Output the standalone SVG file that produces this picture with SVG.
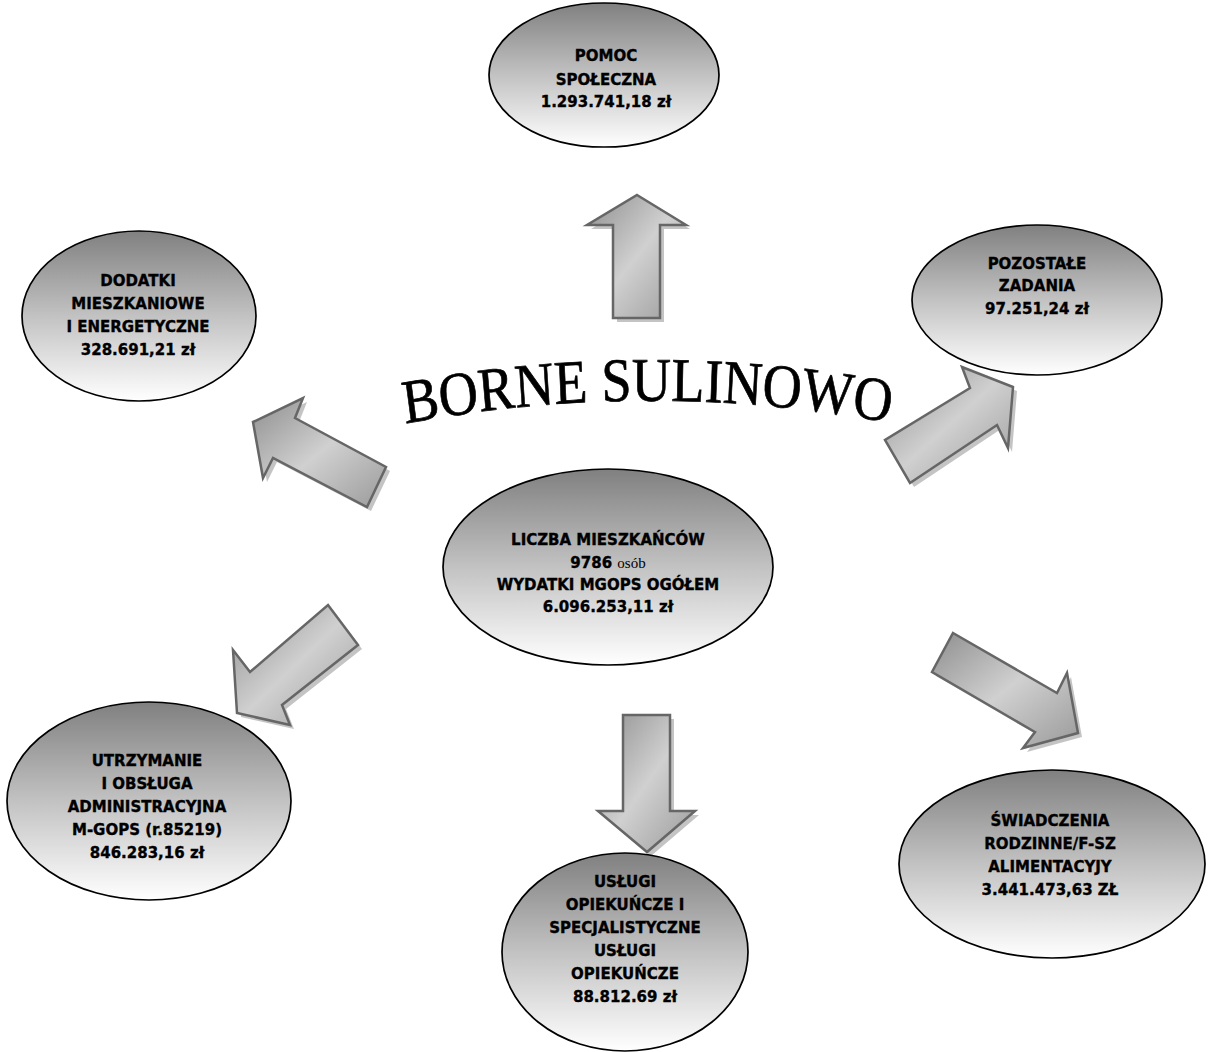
<svg xmlns="http://www.w3.org/2000/svg" width="1208" height="1052" viewBox="0 0 1208 1052">
<style>
.node ellipse{fill:url(#eg);stroke:#000;stroke-width:1.7}
.t{font-family:"DejaVu Sans","Liberation Sans",sans-serif;font-weight:bold;font-size:15px;text-anchor:middle;fill:#000;stroke:#000;stroke-width:0.35}
.s{font-family:"Liberation Serif",serif;font-weight:normal;font-size:15px;stroke:none}
.arr{fill:url(#ag);stroke:#666;stroke-width:2.5;stroke-linejoin:miter}
.sh{fill:#c4c4c4;stroke:none}
.title{font-family:"Liberation Serif","Times New Roman",serif;font-size:62px;fill:#000;stroke:#000;stroke-width:0.7}
</style>
<defs>
<linearGradient id="eg" x1="0" y1="0" x2="0" y2="1">
<stop offset="0" stop-color="#808080"/>
<stop offset="0.5" stop-color="#c2c2c2"/>
<stop offset="1" stop-color="#ffffff"/>
</linearGradient>
<linearGradient id="ag" x1="0" y1="0" x2="1" y2="1">
<stop offset="0" stop-color="#8e8e8e"/>
<stop offset="0.5" stop-color="#d0d0d0"/>
<stop offset="1" stop-color="#9a9a9a"/>
</linearGradient>
<path id="arc" d="M 362 425 A 1529 1353 0 0 1 933 424"/>
</defs>
<rect width="1208" height="1052" fill="#fff"/>

<g id="connectors">
<polygon class="sh" transform="translate(4,4)" points="637,195 686,225 660,225 660,318 613,318 613,225 587,225"/>
<polygon class="arr" points="637,195 686,225 660,225 660,318 613,318 613,225 587,225"/>
<polygon class="sh" transform="translate(4,4)" points="623,715 670,715 670,811 695,811 647,852 598,811 623,811"/>
<polygon class="arr" points="623,715 670,715 670,811 695,811 647,852 598,811 623,811"/>
<polygon class="sh" transform="translate(4,4)" points="253,422 303,398 295,418 386,467 367,507 273,458 263,478"/>
<polygon class="arr" points="253,422 303,398 295,418 386,467 367,507 273,458 263,478"/>
<polygon class="sh" transform="translate(4,4)" points="1013,387 962,367 970,388 885,440 910,483 997,425 1008,448"/>
<polygon class="arr" points="1013,387 962,367 970,388 885,440 910,483 997,425 1008,448"/>
<polygon class="sh" transform="translate(4,4)" points="328,605 358,645 282,705 290,725 237,713 233,650 250,672"/>
<polygon class="arr" points="328,605 358,645 282,705 290,725 237,713 233,650 250,672"/>
<polygon class="sh" transform="translate(4,4)" points="953,633 1057,693 1067,673 1078,733 1023,748 1035,732 932,672"/>
<polygon class="arr" points="953,633 1057,693 1067,673 1078,733 1023,748 1035,732 932,672"/>
</g>

<g id="title">
<text class="title" transform="translate(648.5,0) scale(0.875,1) translate(-648.5,0)"><textPath href="#arc" startOffset="50%" text-anchor="middle">BORNE SULINOWO</textPath></text>
</g>

<g id="node-pomoc" class="node">
<ellipse cx="604" cy="75" rx="115" ry="72"/>
<text class="t" x="606" y="61">POMOC</text>
<text class="t" x="606" y="85">SPOŁECZNA</text>
<text class="t" x="606" y="107">1.293.741,18 zł</text>
</g>

<g id="node-dodatki" class="node">
<ellipse cx="139" cy="316" rx="117" ry="85"/>
<text class="t" x="138" y="286">DODATKI</text>
<text class="t" x="138" y="309">MIESZKANIOWE</text>
<text class="t" x="138" y="332">I ENERGETYCZNE</text>
<text class="t" x="138" y="355">328.691,21 zł</text>
</g>

<g id="node-pozostale" class="node">
<ellipse cx="1037" cy="300" rx="125" ry="75"/>
<text class="t" x="1037" y="269">POZOSTAŁE</text>
<text class="t" x="1037" y="291">ZADANIA</text>
<text class="t" x="1037" y="314">97.251,24 zł</text>
</g>

<g id="node-center" class="node">
<ellipse cx="608" cy="567" rx="165" ry="98"/>
<text class="t" x="608" y="545">LICZBA MIESZKAŃCÓW</text>
<text class="t" x="608" y="568">9786 <tspan class="s">osób</tspan></text>
<text class="t" x="608" y="590">WYDATKI MGOPS OGÓŁEM</text>
<text class="t" x="608" y="612">6.096.253,11 zł</text>
</g>

<g id="node-utrzymanie" class="node">
<ellipse cx="149" cy="801" rx="142" ry="99"/>
<text class="t" x="147" y="766">UTRZYMANIE</text>
<text class="t" x="147" y="789">I OBSŁUGA</text>
<text class="t" x="147" y="812">ADMINISTRACYJNA</text>
<text class="t" x="147" y="835">M-GOPS (r.85219)</text>
<text class="t" x="147" y="858">846.283,16 zł</text>
</g>

<g id="node-uslugi" class="node">
<ellipse cx="625" cy="952" rx="123" ry="99"/>
<text class="t" x="625" y="887">USŁUGI</text>
<text class="t" x="625" y="910">OPIEKUŃCZE I</text>
<text class="t" x="625" y="933">SPECJALISTYCZNE</text>
<text class="t" x="625" y="956">USŁUGI</text>
<text class="t" x="625" y="979">OPIEKUŃCZE</text>
<text class="t" x="625" y="1002">88.812.69 zł</text>
</g>

<g id="node-swiadczenia" class="node">
<ellipse cx="1052" cy="864" rx="153" ry="94"/>
<text class="t" x="1050" y="826">ŚWIADCZENIA</text>
<text class="t" x="1050" y="849">RODZINNE/F-SZ</text>
<text class="t" x="1050" y="872">ALIMENTACYJY</text>
<text class="t" x="1050" y="895">3.441.473,63 ZŁ</text>
</g>
</svg>
